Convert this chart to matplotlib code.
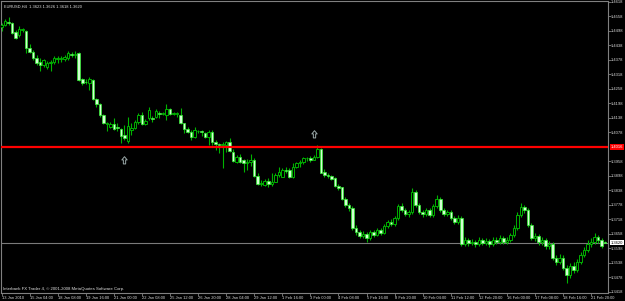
import matplotlib
matplotlib.use("Agg")
import matplotlib.pyplot as plt
from matplotlib import font_manager
from matplotlib.path import Path

symbol_title = "EURUSD,H4  1.3623 1.3626 1.3618 1.3620"
copyright_text = "Interbank FX Trader 4, \u00a9 2001-2008 MetaQuotes Software Corp."

opens = [1.4513,1.4521,1.4536,1.4530,1.4493,1.4480,1.4499,1.4497,1.4426,1.4410,
         1.4385,1.4368,1.4354,1.4348,1.4364,1.4368,1.4381,1.4381,1.4381,1.4385,
         1.4402,1.4397,1.4404,1.4296,1.4287,1.4281,1.4294,1.4215,1.4194,1.4149,
         1.4112,1.4099,1.4112,1.4099,1.4091,1.4066,1.4041,1.4087,1.4095,1.4120,
         1.4149,1.4112,1.4137,1.4137,1.4141,1.4157,1.4153,1.4149,1.4173,1.4153,
         1.4153,1.4149,1.4115,1.4090,1.4080,1.4057,1.4081,1.4083,1.4076,1.4057,
         1.4080,1.4038,1.4029,1.4025,1.4025,1.4038,1.3997,1.3956,1.3976,1.3963,
         1.3949,1.3954,1.3963,1.3896,1.3863,1.3859,1.3877,1.3863,1.3873,1.3900,
         1.3893,1.3921,1.3921,1.3893,1.3935,1.3949,1.3954,1.3970,1.3971,1.3963,
         1.3975,1.4007,1.3914,1.3900,1.3896,1.3887,1.3855,1.3849,1.3801,1.3776,
         1.3764,1.3681,1.3664,1.3648,1.3656,1.3639,1.3664,1.3652,1.3673,1.3660,
         1.3689,1.3706,1.3698,1.3723,1.3772,1.3756,1.3739,1.3747,1.3830,1.3776,
         1.3747,1.3739,1.3756,1.3735,1.3772,1.3801,1.3756,1.3739,1.3747,1.3723,
         1.3706,1.3723,1.3615,1.3631,1.3619,1.3623,1.3615,1.3631,1.3619,1.3627,
         1.3615,1.3631,1.3623,1.3639,1.3623,1.3631,1.3652,1.3681,1.3735,1.3768,
         1.3756,1.3694,1.3639,1.3648,1.3623,1.3631,1.3607,1.3615,1.3557,1.3540,
         1.3557,1.3516,1.3487,1.3524,1.3508,1.3540,1.3569,1.3590,1.3615,1.3623,
         1.3644,1.3631,1.3623]
highs = [1.4530,1.4546,1.4555,1.4534,1.4501,1.4517,1.4509,1.4501,1.4443,1.4418,
         1.4397,1.4385,1.4381,1.4373,1.4377,1.4393,1.4393,1.4393,1.4397,1.4414,
         1.4410,1.4414,1.4410,1.4302,1.4298,1.4306,1.4298,1.4219,1.4198,1.4153,
         1.4120,1.4120,1.4137,1.4116,1.4095,1.4108,1.4141,1.4116,1.4128,1.4157,
         1.4161,1.4133,1.4182,1.4143,1.4174,1.4167,1.4161,1.4194,1.4178,1.4161,
         1.4163,1.4177,1.4117,1.4100,1.4087,1.4100,1.4087,1.4087,1.4080,1.4087,
         1.4087,1.4045,1.4034,1.4038,1.4042,1.4052,1.4007,1.3983,1.3987,1.3966,
         1.3968,1.3987,1.3970,1.3908,1.3880,1.3883,1.3887,1.3908,1.3908,1.3932,
         1.3928,1.3935,1.3928,1.3949,1.3956,1.3963,1.3974,1.3976,1.3979,1.3983,
         1.4025,1.4011,1.3924,1.3908,1.3900,1.3893,1.3863,1.3852,1.3809,1.3785,
         1.3772,1.3694,1.3673,1.3669,1.3664,1.3673,1.3673,1.3681,1.3681,1.3698,
         1.3714,1.3718,1.3731,1.3781,1.3785,1.3764,1.3756,1.3847,1.3838,1.3785,
         1.3756,1.3764,1.3764,1.3781,1.3818,1.3809,1.3764,1.3756,1.3756,1.3731,
         1.3735,1.3731,1.3644,1.3639,1.3636,1.3631,1.3644,1.3639,1.3639,1.3636,
         1.3644,1.3644,1.3652,1.3648,1.3644,1.3660,1.3694,1.3747,1.3785,1.3776,
         1.3764,1.3702,1.3660,1.3656,1.3644,1.3639,1.3627,1.3623,1.3569,1.3573,
         1.3569,1.3528,1.3536,1.3540,1.3553,1.3582,1.3603,1.3631,1.3639,1.3660,
         1.3652,1.3639,1.3626]
lows = [1.4497,1.4517,1.4521,1.4484,1.4464,1.4472,1.4493,1.4406,1.4406,1.4377,
        1.4356,1.4331,1.4348,1.4339,1.4331,1.4360,1.4364,1.4368,1.4373,1.4377,
        1.4389,1.4385,1.4290,1.4273,1.4277,1.4252,1.4211,1.4182,1.4141,1.4112,
        1.4083,1.4095,1.4087,1.4083,1.4033,1.4045,1.4033,1.4066,1.4091,1.4112,
        1.4108,1.4108,1.4128,1.4120,1.4137,1.4137,1.4147,1.4128,1.4149,1.4149,
        1.4141,1.4112,1.4073,1.4073,1.4045,1.4052,1.4073,1.4062,1.4052,1.4025,
        1.4025,1.4004,1.3990,1.3928,1.3997,1.3997,1.3956,1.3949,1.3949,1.3914,
        1.3921,1.3938,1.3893,1.3859,1.3855,1.3855,1.3852,1.3855,1.3870,1.3893,
        1.3891,1.3910,1.3887,1.3887,1.3928,1.3932,1.3946,1.3960,1.3956,1.3961,
        1.3970,1.3908,1.3893,1.3887,1.3880,1.3852,1.3838,1.3797,1.3768,1.3751,
        1.3673,1.3652,1.3639,1.3639,1.3623,1.3631,1.3644,1.3648,1.3652,1.3656,
        1.3681,1.3689,1.3689,1.3714,1.3747,1.3731,1.3727,1.3739,1.3768,1.3739,
        1.3727,1.3731,1.3727,1.3727,1.3764,1.3747,1.3731,1.3731,1.3714,1.3698,
        1.3698,1.3607,1.3607,1.3607,1.3611,1.3603,1.3607,1.3611,1.3611,1.3603,
        1.3607,1.3615,1.3615,1.3615,1.3615,1.3623,1.3644,1.3673,1.3727,1.3743,
        1.3685,1.3631,1.3627,1.3611,1.3611,1.3594,1.3594,1.3549,1.3528,1.3532,
        1.3507,1.3454,1.3474,1.3495,1.3499,1.3532,1.3561,1.3582,1.3603,1.3615,
        1.3619,1.3598,1.3618]
closes = [1.4521,1.4538,1.4530,1.4488,1.4468,1.4505,1.4503,1.4426,1.4410,1.4385,
          1.4364,1.4356,1.4377,1.4364,1.4368,1.4385,1.4383,1.4385,1.4391,1.4406,
          1.4397,1.4402,1.4294,1.4281,1.4285,1.4298,1.4215,1.4194,1.4149,1.4116,
          1.4114,1.4112,1.4091,1.4097,1.4062,1.4054,1.4103,1.4095,1.4120,1.4149,
          1.4112,1.4124,1.4170,1.4134,1.4166,1.4153,1.4157,1.4173,1.4153,1.4155,
          1.4157,1.4115,1.4090,1.4080,1.4057,1.4087,1.4083,1.4079,1.4057,1.4080,
          1.4038,1.4029,1.4025,1.4029,1.4038,1.3999,1.3960,1.3976,1.3956,1.3949,
          1.3954,1.3963,1.3896,1.3863,1.3867,1.3876,1.3863,1.3872,1.3900,1.3913,
          1.3921,1.3919,1.3893,1.3935,1.3949,1.3954,1.3970,1.3971,1.3963,1.3975,
          1.4007,1.3910,1.3900,1.3896,1.3884,1.3855,1.3845,1.3801,1.3776,1.3764,
          1.3681,1.3664,1.3648,1.3656,1.3639,1.3664,1.3652,1.3673,1.3660,1.3689,
          1.3706,1.3698,1.3723,1.3772,1.3756,1.3739,1.3747,1.3830,1.3776,1.3747,
          1.3739,1.3756,1.3735,1.3772,1.3801,1.3756,1.3739,1.3747,1.3723,1.3706,
          1.3723,1.3615,1.3631,1.3619,1.3623,1.3615,1.3631,1.3619,1.3627,1.3615,
          1.3631,1.3623,1.3639,1.3623,1.3631,1.3652,1.3681,1.3735,1.3768,1.3756,
          1.3694,1.3639,1.3648,1.3623,1.3631,1.3607,1.3615,1.3557,1.3540,1.3557,
          1.3516,1.3487,1.3524,1.3508,1.3540,1.3569,1.3590,1.3615,1.3623,1.3644,
          1.3631,1.3607,1.3620]

xtick_bars = list(range(0, 169, 8))
xtick_labels = ["13 Jan 2010", "15 Jan 04:00", "18 Jan 08:00", "19 Jan 16:00",
                "21 Jan 00:00", "22 Jan 08:00", "25 Jan 12:00", "26 Jan 20:00",
                "28 Jan 04:00", "29 Jan 12:00", "1 Feb 16:00", "3 Feb 00:00",
                "4 Feb 08:00", "5 Feb 16:00", "8 Feb 20:00", "10 Feb 04:00",
                "11 Feb 12:00", "12 Feb 20:00", "16 Feb 00:00", "17 Feb 08:00",
                "18 Feb 16:00", "21 Feb 20:00"]
ytick_values = [1.4618, 1.4558, 1.4498, 1.4438, 1.4378, 1.4318, 1.4258, 1.4198,
                1.4138, 1.4078, 1.3958, 1.3898, 1.3838, 1.3778, 1.3718,
                1.3658, 1.3598, 1.3538, 1.3478, 1.3418]
ytick_labels = ["%.4f" % v for v in ytick_values]

hline_price = 1.4016
bid_price = 1.3620
arrow_bars = [35, 89]
arrow_prices = [1.3963, 1.4070]

names = {f.name for f in font_manager.fontManager.ttflist}
FONT = "Liberation Sans Narrow" if "Liberation Sans Narrow" in names else "Liberation Sans"
plt.rcParams["font.family"] = [FONT, "DejaVu Sans"]

YMIN, YMAX = 1.3412, 1.4621
W, H = 625, 301
fig = plt.figure(figsize=(W / 100, H / 100), dpi=100, facecolor="black")
ax = fig.add_axes([1 / W, (H - 293) / H, 607 / W, 292 / H], facecolor="black")

n = len(opens)
wick_col = "#00b400"
for i in range(n):
    o, h, l, c = opens[i], highs[i], lows[i], closes[i]
    ax.vlines(i, l, h, color=wick_col, lw=0.8, zorder=2)
    lo, hi = min(o, c), max(o, c)
    hgt = max(hi - lo, 0.00025)
    if c < o:
        ax.bar(i, hgt, bottom=lo, width=0.72, color="#d2ffd2",
               edgecolor="#30f030", lw=0.5, zorder=3)
    else:
        ax.bar(i, hgt, bottom=lo, width=0.72, color="black",
               edgecolor="#00b000", lw=0.7, zorder=3)

ax.axhline(hline_price, color="#ff0000", lw=1.6, zorder=4)
ax.axhline(bid_price, color="#7a7a7a", lw=0.8, zorder=1)

arrow_path = Path([(0, 1.0), (-0.7, 0.15), (-0.3, 0.15), (-0.3, -0.9),
                   (0.3, -0.9), (0.3, 0.15), (0.7, 0.15), (0, 1.0)],
                  [Path.MOVETO] + [Path.LINETO] * 6 + [Path.CLOSEPOLY])
ax.plot(arrow_bars, arrow_prices, linestyle="none", marker=arrow_path,
        markersize=5.5, markerfacecolor="none", markeredgecolor="#9aa8a8",
        markeredgewidth=0.7, zorder=5)

ax.set_xlim(-0.15, 172.8)
ax.set_ylim(YMIN, YMAX)

for s in ax.spines.values():
    s.set_color("#808080")
    s.set_linewidth(0.8)

ax.yaxis.tick_right()
ax.set_yticks(ytick_values)
ax.set_yticklabels(ytick_labels)
ax.tick_params(axis="y", colors="#808080", length=1.8, width=0.6, pad=0.4,
               labelsize=3.0, labelcolor="#d8d8d8")
ax.set_xticks(xtick_bars)
ax.set_xticklabels(xtick_labels, ha="left")
ax.tick_params(axis="x", colors="#808080", length=2.2, width=0.6, pad=0.3,
               labelsize=2.9, labelcolor="#d8d8d8")

def frac(p):
    return (p - YMIN) / (YMAX - YMIN)

ax.text(1.0045, frac(hline_price), "%.4f" % hline_price,
        transform=ax.transAxes, fontsize=3.0, color="white", va="center",
        ha="left", bbox=dict(boxstyle="square,pad=0.15", fc="#ff0000", ec="none"),
        zorder=6, clip_on=False)
ax.text(1.0045, frac(bid_price), "%.4f" % bid_price,
        transform=ax.transAxes, fontsize=3.0, color="black", va="center",
        ha="left", bbox=dict(boxstyle="square,pad=0.15", fc="white", ec="none"),
        zorder=6, clip_on=False)

ax.text(0.005, 0.988, symbol_title, transform=ax.transAxes, fontsize=2.9,
        color="#e0e0e0", va="top", ha="left")
ax.text(0.004, 0.008, copyright_text, transform=ax.transAxes, fontsize=3.1,
        color="#e0e0e0", va="bottom", ha="left")

fig.savefig("out.png", dpi=100, facecolor="black")
